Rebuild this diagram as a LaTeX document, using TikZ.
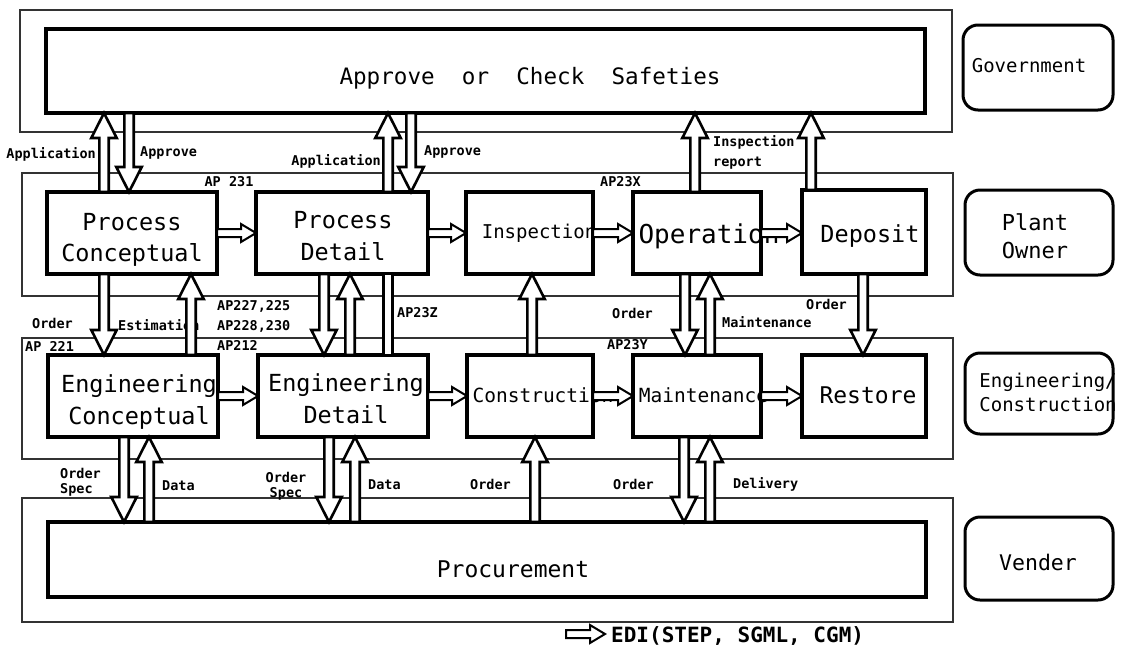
\documentclass[tikz,border=0pt]{standalone}
\usepackage{fontspec}
\setmainfont{DejaVu Sans Mono}
\usetikzlibrary{calc}
\newcommand\fsz[1]{\fontsize{#1}{#1}\selectfont}
% vertical block arrow: x from start, tip at y of target
\newcommand\varrow[2]{\draw[vblk] let \p1=(#1), \p2=(#2), \n1={ifthenelse(\y2>\y1,1,-1)} in
      ({\x1-\sw},{\y1}) -- ({\x1-\sw},{\y2-(\n1)*\hl}) -- ({\x1-\hw},{\y2-(\n1)*\hl}) -- ({\x1},{\y2})
      -- ({\x1+\hw},{\y2-(\n1)*\hl}) -- ({\x1+\sw},{\y2-(\n1)*\hl}) -- ({\x1+\sw},{\y1}) -- cycle;}
% horizontal block arrow: y from start, tip at x of target
\newcommand\harrow[2]{\draw[hblk] let \p1=(#1), \p2=(#2), \n1={ifthenelse(\x2>\x1,1,-1)} in
      ({\x1},{\y1-\sw}) -- ({\x2-(\n1)*\hl},{\y1-\sw}) -- ({\x2-(\n1)*\hl},{\y1-\hw}) -- ({\x2},{\y1})
      -- ({\x2-(\n1)*\hl},{\y1+\hw}) -- ({\x2-(\n1)*\hl},{\y1+\sw}) -- ({\x1},{\y1+\sw}) -- cycle;}
% headless shaft
\newcommand\vshaft[2]{\draw[vblk] let \p1=(#1), \p2=(#2) in ({\x1-\sw},{\y1}) rectangle ({\x1+\sw},{\y2});}
\begin{document}
\begin{tikzpicture}[x=1pt,y=-1pt,
  lane/.style={draw=black!80, line width=1.3pt},
  box/.style={draw, line width=3.2pt, fill=white, inner sep=0pt, outer sep=0pt},
  rbox/.style={draw, line width=3pt, rounded corners=15pt, fill=white, inner sep=0pt, outer sep=0pt},
  txt/.style={inner sep=0pt, align=center},
  lbl/.style={inner sep=0pt, font=\fontsize{13.5}{15}\selectfont\bfseries},
  bigarr/.code={\def\sw{4.7pt}\def\hw{12.7pt}\def\hl{25pt}},
  smlarr/.code={\def\sw{4pt}\def\hw{9pt}\def\hl{15pt}},
  vblk/.style={draw, fill=white, line width=2.6pt, miter limit=20, bigarr},
  hblk/.style={draw, fill=white, line width=2pt, miter limit=20, smlarr}
]
\useasboundingbox[fill=white] (0,0) rectangle (1123,654);

% lanes
\draw[lane] (20,10) rectangle (952,132);
\draw[lane] (22,173) rectangle (953,296);
\draw[lane] (22,338) rectangle (953,459);
\draw[lane] (22,498) rectangle (953,622);

% boxes
\node[box, minimum width=879pt, minimum height=84pt] (gov) at (485.5,71) {};
\node[box, minimum width=170pt, minimum height=82pt] (pc) at (132,233) {};
\node[box, minimum width=172pt, minimum height=82pt] (pd) at (342,233) {};
\node[box, minimum width=127pt, minimum height=82pt] (insp) at (529.5,233) {};
\node[box, minimum width=128pt, minimum height=82pt] (oper) at (697,233) {};
\node[box, minimum width=124pt, minimum height=84pt] (depo) at (864,232) {};
\node[box, minimum width=170pt, minimum height=82pt] (ec) at (133,396) {};
\node[box, minimum width=170pt, minimum height=82pt] (ed) at (343,396) {};
\node[box, minimum width=126pt, minimum height=82pt] (cons) at (530,396) {};
\node[box, minimum width=128pt, minimum height=82pt] (main) at (697,396) {};
\node[box, minimum width=124pt, minimum height=82pt] (rest) at (864,396) {};
\node[box, minimum width=878pt, minimum height=75pt] (proc) at (487,559.5) {};

\node[rbox, minimum width=150pt, minimum height=85pt] (govr) at (1038,67.5) {};
\node[rbox, minimum width=148pt, minimum height=85pt] (ownr) at (1039,232.5) {};
\node[rbox, minimum width=148pt, minimum height=81pt] (engr) at (1039,393.5) {};
\node[rbox, minimum width=148pt, minimum height=83pt] (venr) at (1039,558.5) {};

% box texts
\node[txt, font=\fsz{22.6}] (govt) at (530,78) {Approve\ \ or\ \ Check\ \ Safeties};
\node[txt, font=\fontsize{23.5}{31}\selectfont] (pct) at (132,240) {Process\\Conceptual};
\node[txt, font=\fontsize{23.5}{32}\selectfont] (pdt) at (343,236) {Process\\Detail};
\node[txt, font=\fsz{19}] (inst) at (539,233) {Inspection};
\node[txt, font=\fsz{26}] (opt) at (709,236) {Operation};
\node[txt, font=\fsz{23.5}] (dept) at (870,236) {Deposit};
\node[txt, font=\fontsize{23.5}{32}\selectfont] (ect) at (139,402) {Engineering\\Conceptual};
\node[txt, font=\fontsize{23.5}{32}\selectfont] (edt) at (346,399) {Engineering\\Detail};
\node[txt, font=\fsz{19.5}] (cont) at (543,395) {Construction};
\node[txt, font=\fsz{19.5}] (maint) at (703.5,395) {Maintenance};
\node[txt, font=\fsz{23}] (restt) at (868,395) {Restore};
\node[txt, font=\fsz{23}] (proct) at (513,569) {Procurement};

\node[txt, font=\fsz{19}] (govrt) at (1029,66) {Government};
\node[txt, font=\fontsize{22}{28}\selectfont] (ownrt) at (1035,236) {Plant\\Owner};
\node[txt, font=\fontsize{19}{24}\selectfont] (engrt) at (1048,392) {Engineering/\\Construction};
\node[txt, font=\fsz{21.5}] (venrt) at (1038,562) {Vender};

% small labels
\node[lbl, anchor=east] (lapp1) at (96,154) {Application};
\node[lbl, anchor=west] (lapv1) at (140,153) {Approve};
\node[lbl] (lap231) at (229,182) {AP 231};
\node[lbl, anchor=east] (lapp2) at (381,161) {Application};
\node[lbl, anchor=west] (lapv2) at (424,152) {Approve};
\node[lbl, anchor=west] (lap23x) at (600,182) {AP23X};
\node[lbl, anchor=west, align=left, font=\fontsize{13.5}{20}\selectfont\bfseries] (linsp) at (713,152) {Inspection\\report};
\node[lbl, anchor=west] (lord1) at (32,323) {Order};
\node[lbl, anchor=west] (lest) at (118,325) {Estimation};
\node[lbl, anchor=west] (lap227) at (217,306) {AP227,225};
\node[lbl, anchor=west] (lap228) at (217,326) {AP228,230};
\node[lbl, anchor=west] (lap212) at (217,345) {AP212};
\node[lbl, anchor=west] (lap221) at (25,346) {AP 221};
\node[lbl, anchor=west] (lap23z) at (397,313) {AP23Z};
\node[lbl, anchor=west] (lord2) at (612,313) {Order};
\node[lbl, anchor=west] (lap23y) at (607,345) {AP23Y};
\node[lbl, anchor=west] (lmaint) at (722,322) {Maintenance};
\node[lbl, anchor=west] (lord3) at (806,304) {Order};
\node[lbl, anchor=west, align=left] (los1) at (60,482) {Order\\Spec};
\node[lbl, anchor=west] (ldata1) at (162,486) {Data};
\node[lbl, align=center] (los2) at (286,486) {Order\\Spec};
\node[lbl, anchor=west] (ldata2) at (368,485) {Data};
\node[lbl, anchor=west] (lord4) at (470,484) {Order};
\node[lbl, anchor=west] (lord5) at (613,484) {Order};
\node[lbl, anchor=west] (ldel) at (733,484) {Delivery};

% horizontal EDI arrows
\harrow{pc.east}{pd.west}
\harrow{pd.east}{insp.west}
\harrow{insp.east}{oper.west}
\harrow{oper.east}{depo.west}
\harrow{ec.east}{ed.west}
\harrow{ed.east}{cons.west}
\harrow{cons.east}{main.west}
\harrow{main.east}{rest.west}

% government <-> plant owner
\varrow{[xshift=57pt]pc.north west}{gov.south}
\varrow{[xshift=83pt]gov.south west}{pc.north}
\varrow{[xshift=132pt]pd.north west}{gov.south}
\varrow{[xshift=365pt]gov.south west}{pd.north}
\varrow{[xshift=62pt]oper.north west}{gov.south}
\varrow{[xshift=9pt]depo.north west}{gov.south}

% plant owner <-> engineering
\varrow{[xshift=57pt]pc.south west}{ec.north}
\varrow{[xshift=143pt]ec.north west}{pc.south}
\varrow{[xshift=68pt]pd.south west}{ed.north}
\varrow{[xshift=92pt]ed.north west}{pd.south}
\vshaft{[xshift=132pt]pd.south west}{ed.north}
\varrow{[xshift=65pt]cons.north west}{insp.south}
\varrow{[xshift=52pt]oper.south west}{main.north}
\varrow{[xshift=77pt]main.north west}{oper.south}
\varrow{[xshift=61pt]depo.south west}{rest.north}

% engineering <-> vender
\varrow{[xshift=76pt]ec.south west}{proc.north}
\varrow{[xshift=101pt]proc.north west}{ec.south}
\varrow{[xshift=71pt]ed.south west}{proc.north}
\varrow{[xshift=307pt]proc.north west}{ed.south}
\varrow{[xshift=487pt]proc.north west}{cons.south}
\varrow{[xshift=51pt]main.south west}{proc.north}
\varrow{[xshift=662pt]proc.north west}{main.south}

% legend
\coordinate (lgs) at (566,634);
\node[txt, inner xsep=6pt, anchor=west, font=\fsz{21}\bfseries] (lgt) at (605,636) {EDI(STEP, SGML, CGM)};
\harrow{lgs}{lgt.west}
\end{tikzpicture}
\end{document}
